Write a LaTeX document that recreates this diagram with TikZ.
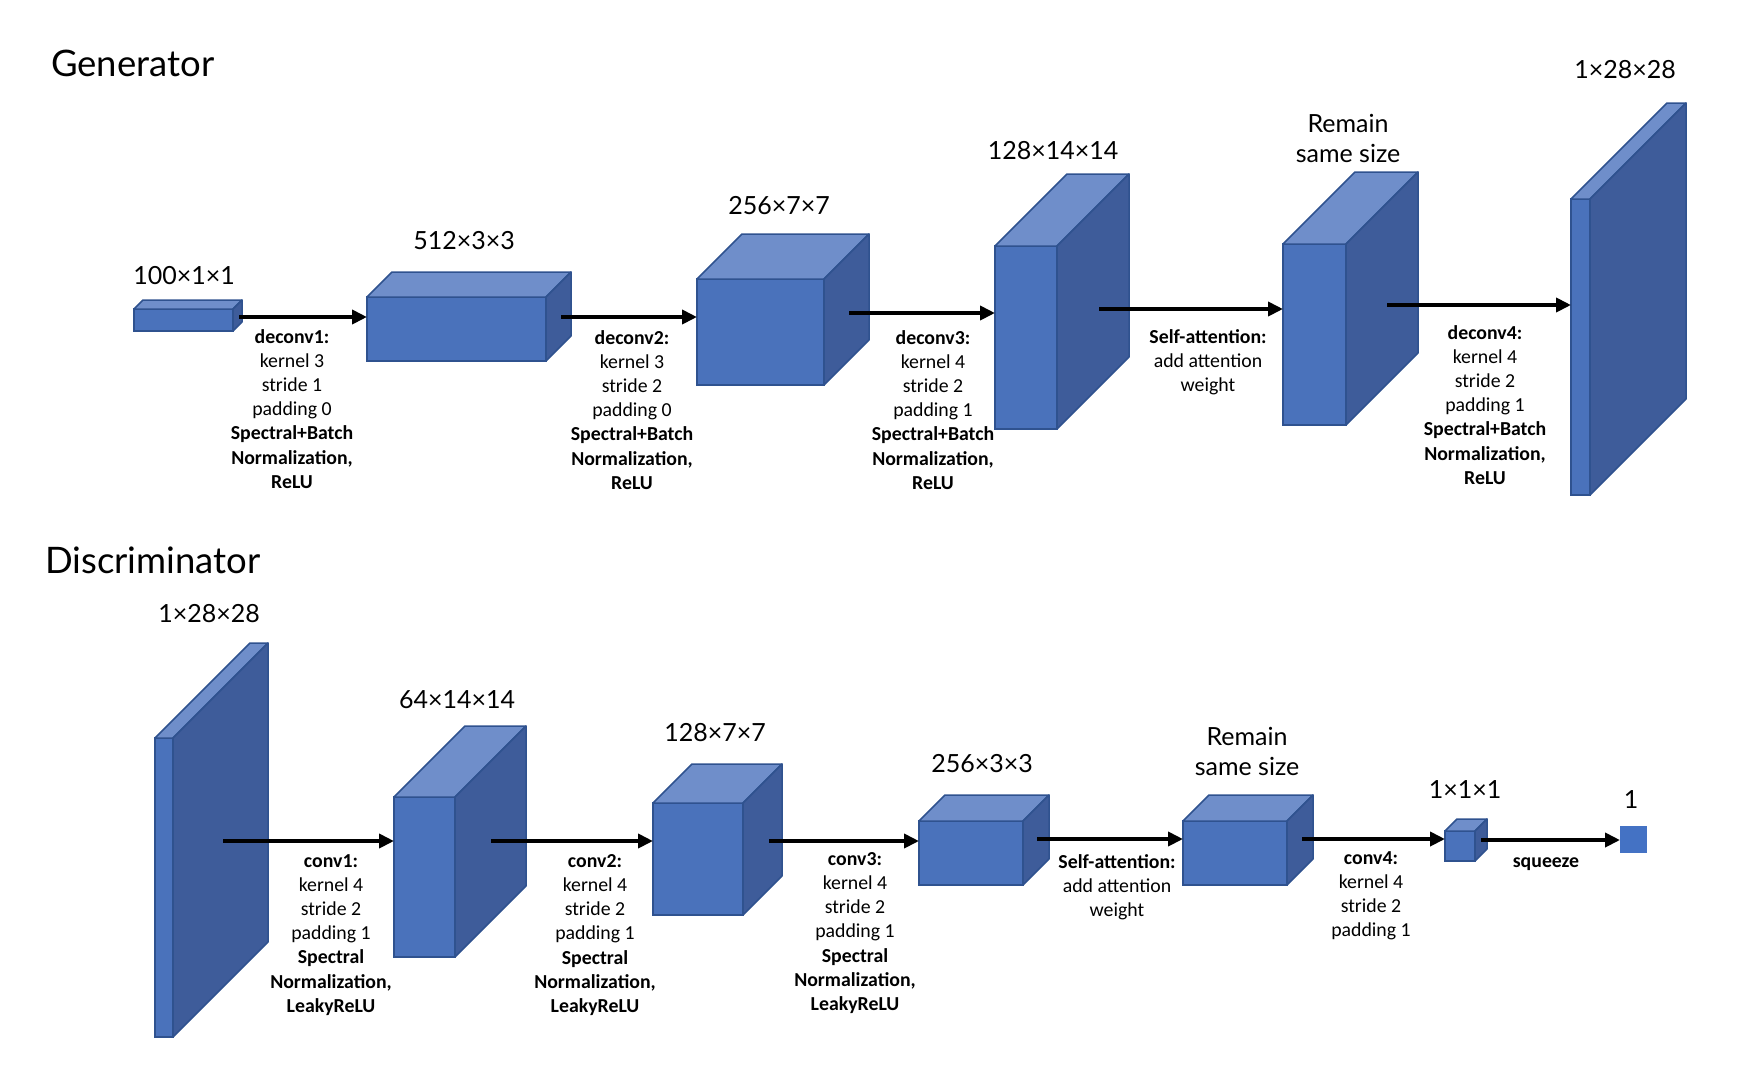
\documentclass[tikz,border=0pt]{standalone}
\usepackage{fontspec}
\setmainfont{Carlito}
\newfontfamily\dimfont{Lato}
\usepackage{xcolor}
\usepackage{tikz}
\usetikzlibrary{arrows.meta,positioning,calc}

\definecolor{frontblue}{HTML}{4A72BB}
\definecolor{topblue}{HTML}{6F8ECA}
\definecolor{sideblue}{HTML}{3E5C9A}
\definecolor{edgeblue}{HTML}{2F528F}
\definecolor{outblue}{HTML}{4472C4}

% cuboid: name, x, y (top left of front face, pixels), width, height, depth
\newcommand{\cuboid}[6]{%
  \node[front, minimum width=#4pt, minimum height=#5pt, anchor=north west] (#1) at (#2,-#3) {};
  \draw[topface] (#1.north west) -- ++(#6,#6) -- ($(#1.north east)+(#6,#6)$) -- (#1.north east) -- cycle;
  \draw[sideface] (#1.north east) -- ++(#6,#6) -- ($(#1.south east)+(#6,#6)$) -- (#1.south east) -- cycle;
}

\begin{document}
\begin{tikzpicture}[
    x=1pt, y=1pt,
    front/.style={draw=edgeblue, fill=frontblue, line width=1.5pt, inner sep=0pt, outer sep=0pt},
    topface/.style={draw=edgeblue, fill=topblue, line width=1.5pt, line join=round},
    sideface/.style={draw=edgeblue, fill=sideblue, line width=1.5pt, line join=round},
    arrow/.style={-{Triangle[length=15pt, width=14pt]}, line width=4.5pt},
    dim/.style={font=\dimfont\fontsize{25}{30}\selectfont, align=center, inner sep=0pt},
    title/.style={font=\dimfont\fontsize{36.5}{42}\selectfont, anchor=west, inner sep=0pt},
    info/.style={font=\fontsize{19.8}{24.2}\selectfont, align=center, anchor=north, inner sep=0pt}
]
\useasboundingbox (0,0) rectangle (1752,-1082);

% Generator
\node[title] (gtitle) at (51,-63) {Generator};

\cuboid{g1}{134}{309}{99}{22}{9}
\cuboid{g2}{367}{297}{179}{64}{25}
\cuboid{g3}{697}{279}{127}{106}{45}
\cuboid{g4}{995}{246}{62}{183}{72}
\cuboid{g5}{1283}{244}{63}{181}{72}
\cuboid{g6}{1571}{199}{19}{296}{96}

\node[dim] (g1dim) at (184,-276) {100×1×1};
\node[dim] (g2dim) at (464,-241) {512×3×3};
\node[dim] (g3dim) at (779,-206) {256×7×7};
\node[dim] (g4dim) at (1053,-151) {128×14×14};
\node[dim] (g5dim) at (1348,-138) {Remain\\same size};
\node[dim] (g6dim) at (1625,-70) {1×28×28};

\coordinate (ga1) at (239,-317);
\coordinate (ga2) at (561,-317);
\coordinate (ga3) at (849,-313);
\coordinate (ga4) at (1099,-309);
\coordinate (ga5) at (1387,-305);
\draw[arrow] (ga1) -- (ga1 -| g2.west);
\draw[arrow] (ga2) -- (ga2 -| g3.west);
\draw[arrow] (ga3) -- (ga3 -| g4.west);
\draw[arrow] (ga4) -- (ga4 -| g5.west);
\draw[arrow] (ga5) -- (ga5 -| g6.west);

\node[info] (g1txt) at (292,-329) {\textbf{deconv1:}\\kernel 3\\stride 1\\padding 0\\\textbf{Spectral+Batch}\\\textbf{Normalization,}\\\textbf{ReLU}};
\node[info] (g2txt) at (632,-330) {\textbf{deconv2:}\\kernel 3\\stride 2\\padding 0\\\textbf{Spectral+Batch}\\\textbf{Normalization,}\\\textbf{ReLU}};
\node[info] (g3txt) at (933,-330) {\textbf{deconv3:}\\kernel 4\\stride 2\\padding 1\\\textbf{Spectral+Batch}\\\textbf{Normalization,}\\\textbf{ReLU}};
\node[info] (g4txt) at (1208,-329) {\textbf{Self-attention:}\\add attention\\weight};
\node[info] (g5txt) at (1485,-325) {\textbf{deconv4:}\\kernel 4\\stride 2\\padding 1\\\textbf{Spectral+Batch}\\\textbf{Normalization,}\\\textbf{ReLU}};

% Discriminator
\node[title] (dtitle) at (45,-560) {Discriminator};

\cuboid{d1}{155}{738}{18}{299}{95}
\cuboid{d2}{394}{797}{61}{160}{71}
\cuboid{d3}{653}{803}{90}{112}{39}
\cuboid{d4}{919}{821}{104}{64}{26}
\cuboid{d5}{1183}{821}{104}{64}{26}
\cuboid{d6}{1445}{831}{30}{30}{12}
\node[fill=outblue, minimum size=26.5pt, inner sep=0pt, outer sep=0pt, anchor=north west] (dout) at (1620,-826) {};

\node[dim] (d1dim) at (209,-614) {1×28×28};
\node[dim] (d2dim) at (457,-700) {64×14×14};
\node[dim] (d3dim) at (715,-733) {128×7×7};
\node[dim] (d4dim) at (982,-764) {256×3×3};
\node[dim] (d5dim) at (1247,-751) {Remain\\same size};
\node[dim] (d6dim) at (1465,-790) {1×1×1};
\node[dim] (doutdim) at (1631,-800) {1};

\coordinate (da1) at (223,-841);
\coordinate (da2) at (491,-841);
\coordinate (da3) at (769,-841);
\coordinate (da4) at (1037,-839);
\coordinate (da5) at (1302,-839);
\coordinate (da6) at (1481,-840);
\draw[arrow] (da1) -- (da1 -| d2.west);
\draw[arrow] (da2) -- (da2 -| d3.west);
\draw[arrow] (da3) -- (da3 -| d4.west);
\draw[arrow] (da4) -- (da4 -| d5.west);
\draw[arrow] (da5) -- (da5 -| d6.west);
\draw[arrow] (da6) -- (da6 -| dout.west);

\node[info] (d1txt) at (331,-854) {\textbf{conv1:}\\kernel 4\\stride 2\\padding 1\\\textbf{Spectral}\\\textbf{Normalization,}\\\textbf{LeakyReLU}};
\node[info] (d2txt) at (595,-854) {\textbf{conv2:}\\kernel 4\\stride 2\\padding 1\\\textbf{Spectral}\\\textbf{Normalization,}\\\textbf{LeakyReLU}};
\node[info] (d3txt) at (855,-852) {\textbf{conv3:}\\kernel 4\\stride 2\\padding 1\\\textbf{Spectral}\\\textbf{Normalization,}\\\textbf{LeakyReLU}};
\node[info] (d4txt) at (1117,-854) {\textbf{Self-attention:}\\add attention\\weight};
\node[info] (d5txt) at (1371,-851) {\textbf{conv4:}\\kernel 4\\stride 2\\padding 1};
\node[info] (d6txt) at (1546,-858) {\textbf{squeeze}};

\end{tikzpicture}
\end{document}
